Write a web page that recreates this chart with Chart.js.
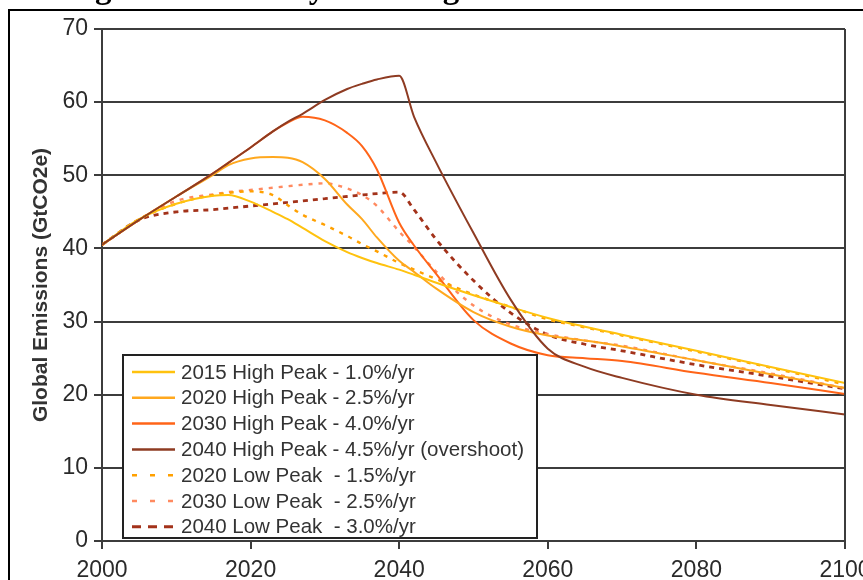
<!DOCTYPE html>
<html>
<head>
<meta charset="utf-8">
<title>Pathways to bring emissions to a safe level</title>
<script src="https://cdn.jsdelivr.net/npm/chart.js@4.4.1/dist/chart.umd.min.js"></script>
<style>
  html, body { margin: 0; padding: 0; background: #fff; overflow: hidden; }
  #wrap { width: 863px; height: 580px; }
</style>
</head>
<body>
<div id="wrap"><canvas id="grafico" width="863" height="580"></canvas></div>
<script>
// --- DATA ---
const titleText = 'Figure 3: Pathways to bring emissions to a safe level';
const yAxisTitle = 'Global Emissions (GtCO2e)';
const xTickValues = [2000, 2020, 2040, 2060, 2080, 2100];
const yTickValues = [0, 10, 20, 30, 40, 50, 60, 70];

const years = [2000, 2005, 2010, 2015, 2017, 2020, 2023, 2025, 2027, 2030, 2033, 2035, 2037, 2040, 2042, 2045, 2050, 2055, 2060, 2065, 2070, 2080, 2090, 2100];

const seriesLabels = [
  '2015 High Peak - 1.0%/yr',
  '2020 High Peak - 2.5%/yr',
  '2030 High Peak - 4.0%/yr',
  '2040 High Peak - 4.5%/yr (overshoot)',
  '2020 Low Peak  - 1.5%/yr',
  '2030 Low Peak  - 2.5%/yr',
  '2040 Low Peak  - 3.0%/yr'
];

const high2015 = [40.5, 44.0, 46.1, 47.2, 47.3, 46.4, 45.0, 44.0, 42.8, 41.0, 39.5, 38.7, 38.0, 37.1, 36.4, 35.3, 33.6, 32.0, 30.5, 29.3, 28.2, 26.0, 23.8, 21.6];
const high2020 = [40.5, 43.9, 47.1, 50.1, 51.4, 52.3, 52.5, 52.4, 51.8, 49.5, 46.0, 44.0, 41.5, 38.3, 36.8, 34.5, 31.3, 29.3, 28.1, 27.4, 26.6, 24.7, 22.8, 20.9];
const high2030 = [40.5, 43.9, 47.1, 50.3, 51.7, 53.8, 56.0, 57.2, 58.0, 57.5, 55.8, 54.0, 50.8, 43.5, 40.4, 36.5, 30.2, 27.0, 25.4, 25.0, 24.6, 23.0, 21.6, 20.1];
const high2040 = [40.5, 43.9, 47.1, 50.3, 51.7, 53.8, 56.0, 57.3, 58.4, 60.3, 61.8, 62.5, 63.1, 63.6, 58.0, 51.7, 42.1, 33.0, 26.3, 23.8, 22.3, 20.0, 18.6, 17.3];
const low2020 = [40.5, 44.0, 46.1, 47.3, 47.6, 47.8, 47.3, 45.9, 44.6, 43.2, 41.7, 40.6, 39.6, 38.0, 37.1, 35.8, 33.7, 32.0, 30.3, 29.2, 28.1, 25.9, 23.7, 21.4];
const low2030 = [40.5, 44.0, 46.5, 47.4, 47.7, 48.0, 48.3, 48.5, 48.7, 48.9, 48.2, 47.3, 45.8, 42.3, 40.2, 36.8, 32.2, 29.6, 28.3, 27.4, 26.7, 24.7, 22.9, 20.9];
const low2040 = [40.5, 43.9, 45.0, 45.3, 45.5, 45.8, 46.1, 46.3, 46.5, 46.8, 47.1, 47.3, 47.5, 47.7, 45.3, 41.2, 35.6, 31.2, 28.2, 26.9, 26.0, 24.1, 22.5, 20.8];

const seriesValues = [high2015, high2020, high2030, high2040, low2020, low2030, low2040];
const seriesColors = ['#FFC20E', '#FFA81E', '#FF6418', '#8E3B22', '#FFA000', '#FF8A60', '#A3321A'];

// --- HELPERS ---
function aPuntos(valores) {
  return years.map((anio, i) => ({ x: anio, y: valores[i] }));
}

function crearDataset(i) {
  const esBajo = i >= 4;
  return {
    label: seriesLabels[i],
    data: aPuntos(seriesValues[i]),
    borderColor: seriesColors[i],
    backgroundColor: seriesColors[i],
    borderWidth: esBajo ? (i === 6 ? 2.8 : 2.4) : 2,
    borderDash: esBajo ? (i === 6 ? [5, 5] : [4, 6]) : [],
    cubicInterpolationMode: 'monotone',
    pointRadius: 0,
    fill: false,
    order: i === 3 ? 0 : i + 1
  };
}

// --- PLUGIN: title strip, outer frame, plot border and boxed legend ---
const decoracion = {
  id: 'decoracion',
  beforeDraw(chart) {
    const ctx = chart.ctx;
    ctx.save();
    ctx.fillStyle = '#fff';
    ctx.fillRect(0, 0, chart.width, chart.height);
    // title of the figure, mostly cut off by the page edge
    ctx.font = 'bold 33px "Liberation Serif", "Times New Roman", serif';
    ctx.fillStyle = '#000';
    ctx.textAlign = 'center';
    ctx.textBaseline = 'alphabetic';
    ctx.fillText(titleText, chart.width / 2, -2);
    // outer frame
    ctx.strokeStyle = '#000';
    ctx.lineWidth = 2;
    ctx.strokeRect(9, 10, chart.width + 40, chart.height + 40);
    ctx.restore();
  },
  afterDraw(chart) {
    const ctx = chart.ctx;
    const area = chart.chartArea;
    ctx.save();
    // right edge of the plot
    ctx.strokeStyle = '#3c3c3c';
    ctx.lineWidth = 2;
    ctx.beginPath();
    ctx.moveTo(area.right, area.top);
    ctx.lineTo(area.right, area.bottom);
    ctx.stroke();

    // legend box
    const izq = area.left + 21;
    const ancho = 414;
    const abajo = area.bottom - 3;
    const alto = 183;
    const arriba = abajo - alto;
    ctx.fillStyle = '#fff';
    ctx.fillRect(izq, arriba, ancho, alto);
    ctx.strokeStyle = '#222';
    ctx.lineWidth = 2;
    ctx.strokeRect(izq, arriba, ancho, alto);

    ctx.font = '20.5px "Liberation Sans", Arial, sans-serif';
    ctx.textAlign = 'left';
    ctx.textBaseline = 'middle';
    chart.data.datasets.forEach((ds, i) => {
      const y = arriba + 17 + i * 25.8;
      ctx.strokeStyle = ds.borderColor;
      ctx.lineWidth = i === 6 ? 3 : 2.5;
      if (i === 6) ctx.setLineDash([9, 7]);
      else if (ds.borderDash.length) ctx.setLineDash([5, 13]);
      else ctx.setLineDash([]);
      ctx.beginPath();
      ctx.moveTo(izq + 9, y);
      ctx.lineTo(izq + 52, y);
      ctx.stroke();
      ctx.setLineDash([]);
      ctx.fillStyle = '#333';
      ctx.fillText(ds.label, izq + 58, y + 1);
    });
    ctx.restore();
  }
};

// --- CHART ---
const ctx = document.getElementById('grafico').getContext('2d');
new Chart(ctx, {
  type: 'line',
  data: { datasets: seriesValues.map((_, i) => crearDataset(i)) },
  options: {
    responsive: false,
    animation: false,
    devicePixelRatio: 1,
    layout: { padding: { left: 0, top: 29, right: 18, bottom: 0 } },
    plugins: { legend: { display: false }, tooltip: { enabled: false } },
    scales: {
      x: {
        type: 'linear',
        min: 2000,
        max: 2100,
        afterBuildTicks: s => { s.ticks = xTickValues.map(v => ({ value: v })); },
        afterFit: s => { s.height = 39; s.paddingLeft = 0; s.paddingRight = 0; },
        grid: { drawOnChartArea: false, drawTicks: true, tickLength: 8, color: '#3c3c3c', lineWidth: 2 },
        border: { color: '#3c3c3c', width: 2 },
        ticks: {
          maxRotation: 0,
          autoSkip: false,
          padding: 8,
          color: '#2a2a2a',
          font: { family: '"Liberation Sans", Arial, sans-serif', size: 23 },
          callback: v => String(v)
        }
      },
      y: {
        min: 0,
        max: 70,
        afterBuildTicks: s => { s.ticks = yTickValues.map(v => ({ value: v })); },
        afterFit: s => { s.width = 102; },
        grid: { color: '#3c3c3c', lineWidth: 2, tickLength: 8 },
        border: { color: '#3c3c3c', width: 2 },
        ticks: {
          padding: 6,
          color: '#2a2a2a',
          font: { family: '"Liberation Sans", Arial, sans-serif', size: 23 },
          callback: v => String(v)
        },
        title: {
          display: true,
          text: yAxisTitle,
          color: '#333',
          padding: { top: 29, bottom: 0 },
          font: { family: '"Liberation Sans", Arial, sans-serif', size: 21, weight: 'bold' }
        }
      }
    }
  },
  plugins: [decoracion]
});
</script>
</body>
</html>
